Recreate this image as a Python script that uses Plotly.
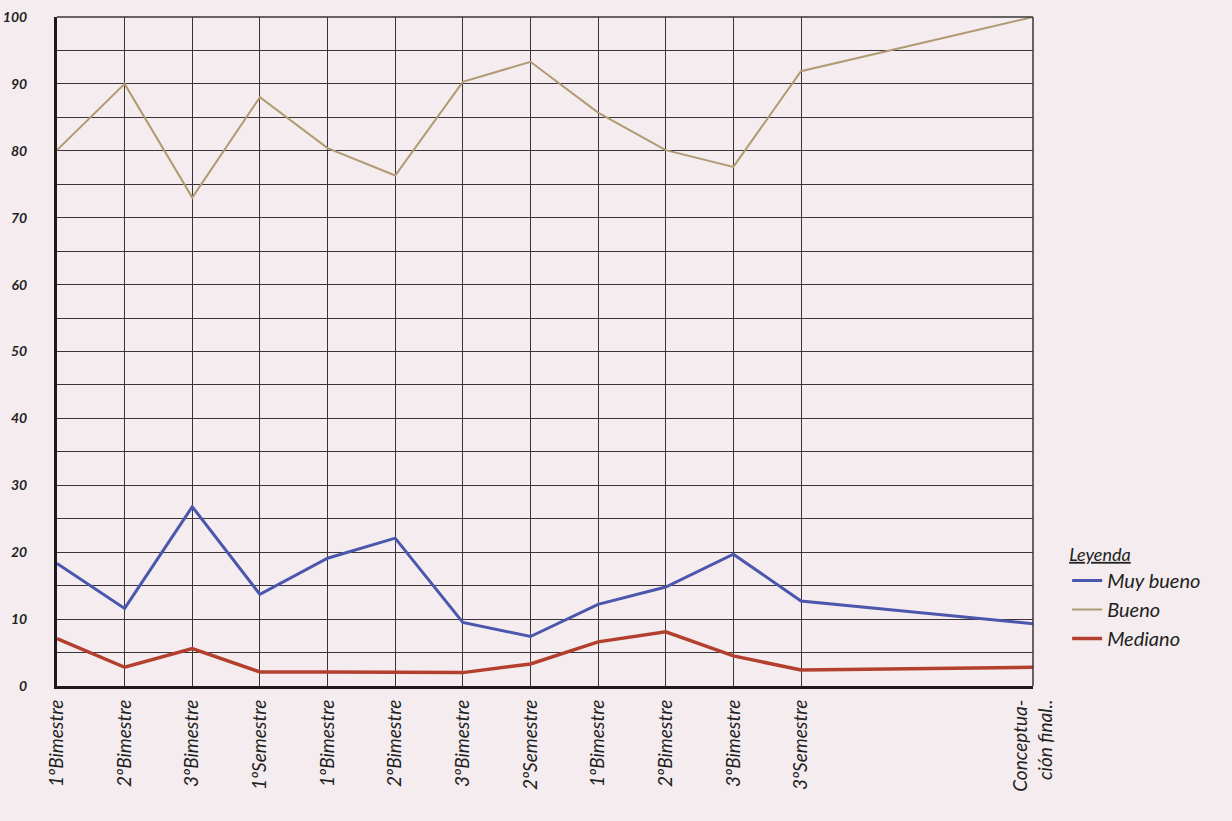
import plotly.graph_objects as go

# Category labels along the x axis and their positions on the axis (in category units)
categories = ["1ºBimestre", "2ºBimestre", "3ºBimestre", "1ºSemestre",
              "1ºBimestre", "2ºBimestre", "3ºBimestre", "2ºSemestre",
              "1ºBimestre", "2ºBimestre", "3ºBimestre", "3ºSemestre",
              "Conceptua-<br>ción final.."]
x_pos = [0, 1, 2, 3, 4, 5, 6, 7, 8, 9, 10, 11, 14.43]

# Series values (percent)
muy_bueno = [18.3, 11.6, 26.8, 13.7, 19.1, 22.1, 9.5, 7.4, 12.2, 14.8, 19.7, 12.7, 9.3]
bueno = [80.1, 90.0, 73.0, 88.0, 80.4, 76.3, 90.3, 93.3, 85.7, 80.1, 77.6, 91.9, 100.0]
mediano = [7.1, 2.8, 5.6, 2.1, 2.1, 2.1, 2.0, 3.3, 6.6, 8.1, 4.5, 2.4, 2.8]

# Y tick values and labels
y_ticks = [0, 10, 20, 30, 40, 50, 60, 70, 80, 90, 100]
y_labels = ["0", "10", "20", "30", "40", "50", "60", "70", "80", "90", "100"]

BG = "#f4ecee"
GRID = "#3a3438"

fig = go.Figure()
fig.add_trace(go.Scatter(x=x_pos, y=muy_bueno, mode="lines", name="Muy bueno",
                         line=dict(color="#4b56ad", width=3), cliponaxis=False))
fig.add_trace(go.Scatter(x=x_pos, y=bueno, mode="lines", name="Bueno",
                         line=dict(color="#b09a72", width=2), cliponaxis=False))
fig.add_trace(go.Scatter(x=x_pos, y=mediano, mode="lines", name="Mediano",
                         line=dict(color="#b3402f", width=3.5), cliponaxis=False))

fig.update_layout(
    width=1232, height=821, autosize=False,
    margin=dict(l=57, r=199, t=17, b=135, autoexpand=False),
    paper_bgcolor=BG, plot_bgcolor=BG,
    font=dict(family="Lato, DejaVu Sans, sans-serif", color="#222"),
    legend=dict(
        x=1.035, y=0.222, xanchor="left", yanchor="top",
        bgcolor="rgba(0,0,0,0)",
        title=dict(text="<u>Leyenda</u>", side="top",
                   font=dict(size=18, style="italic", color="#222")),
        font=dict(size=20, style="italic", color="#222"),
        itemwidth=30, tracegroupgap=0,
    ),
)

fig.update_xaxes(
    range=[0, x_pos[-1]], automargin=False,
    tickmode="array", tickvals=x_pos, ticktext=categories,
    tickangle=-90, tickfont=dict(size=19, style="italic", color="#222"),
    showgrid=True, gridcolor=GRID, gridwidth=1.2,
    showline=True, linecolor="#1e1a1c", linewidth=3, mirror=False,
    zeroline=False, ticks="", ticklen=0, ticklabelstandoff=3,
)
fig.update_yaxes(
    range=[0, 100], automargin=False,
    tickmode="array", tickvals=y_ticks, ticktext=y_labels,
    tickfont=dict(size=14, style="italic", weight="bold", color="#222"),
    showgrid=True, gridcolor=GRID, gridwidth=1.2,
    minor=dict(dtick=5, showgrid=True, gridcolor=GRID, gridwidth=1.2),
    showline=True, linecolor="#1e1a1c", linewidth=3,
    zeroline=False, ticks="", ticklabelstandoff=24,
)
# right border and top border of the grid
fig.add_shape(type="line", xref="paper", yref="paper", x0=1, x1=1, y0=0, y1=1,
              line=dict(color=GRID, width=1.5))
fig.add_shape(type="line", xref="paper", yref="paper", x0=0, x1=1, y0=1, y1=1,
              line=dict(color=GRID, width=1.5))

fig.write_html(
    "out.html",
    config={"displayModeBar": False},
    post_script="document.body.style.margin='0';document.body.style.background='%s';" % BG,
)
